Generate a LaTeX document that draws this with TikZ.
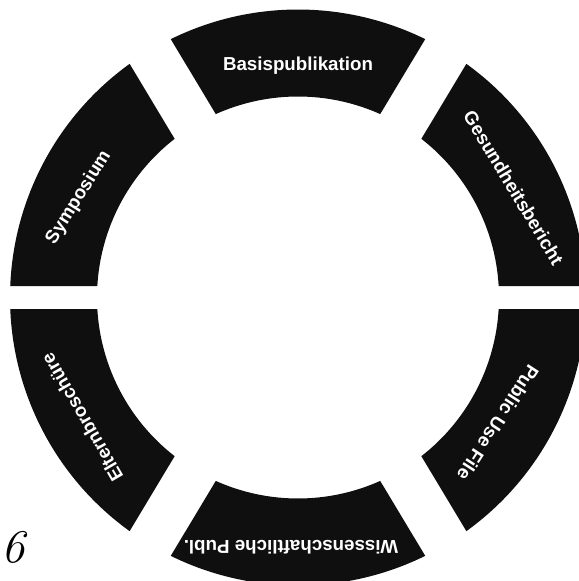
\documentclass[tikz,border=0pt]{standalone}
\usepackage{fontspec}
\newfontfamily\lblfont{Liberation Sans}
\usepackage{xcolor}
\usepackage{tikz}
\definecolor{segfill}{gray}{0.06}

\begin{document}
\begin{tikzpicture}[
  x=0.3mm, y=0.3mm,
  seg/.style={fill=segfill},
  lbl/.style={text=white, inner sep=0pt, font=\lblfont\bfseries\fontsize{16}{16}\selectfont},
  pagenum/.style={inner sep=0pt, font=\itshape\fontsize{40}{40}\selectfont}
]
\useasboundingbox (-298,-283.5) rectangle (281,297.5);
\clip (-298,-283.5) rectangle (281,297.5);
% ring segments: outer start/end, inner start/end
\foreach \ao/\bo/\ai/\bi in {2.29/54.22/3.28/52.14, 63.78/116.22/65.86/114.14,
    125.78/177.71/127.86/176.72, 182.29/234.22/183.28/232.14,
    243.78/296.22/245.86/294.14, 305.78/357.71/307.86/356.72}
  \fill[seg] (\ao:288) arc[start angle=\ao, end angle=\bo, radius=288]
    -- (\bi:201) arc[start angle=\bi, end angle=\ai, radius=201] -- cycle;
\node[lbl] (basis) at (90:232) {Basispublikation};
\node[lbl, rotate=-59] (gesund) at (27:242) {Gesundheitsbericht};
\node[lbl, rotate=-123] (public) at (-32:236) {Public Use File};
\node[lbl, rotate=180] (wiss) at (-91.6:250) {Wissenschaftliche Publ.};
\node[lbl, rotate=120] (eltern) at (209:247) {Elternbroschüre};
\node[lbl, rotate=58] (sympo) at (155.5:241) {Symposium};
\node[pagenum, anchor=west] (num) at (-297,-250) {6};
\end{tikzpicture}
\end{document}
